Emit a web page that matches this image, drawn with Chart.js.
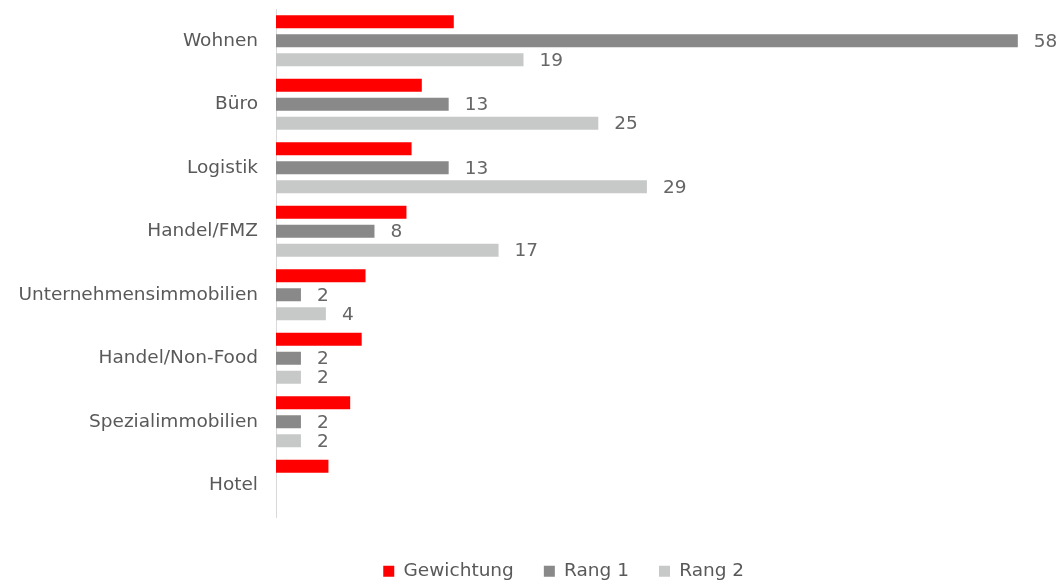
<!DOCTYPE html>
<html>
<head>
<meta charset="utf-8">
<script src="https://cdn.jsdelivr.net/npm/chart.js@4/dist/chart.umd.min.js"></script>
<style>
  html, body { margin: 0; padding: 0; background: #fff; }
  #wrap { width: 1062px; height: 582px; position: relative; }
</style>
</head>
<body>
<div id="wrap"><canvas id="grafico"></canvas></div>
<script>
// kategorien und werte
const kategorien = ['Wohnen', 'Büro', 'Logistik', 'Handel/FMZ', 'Unternehmensimmobilien', 'Handel/Non-Food', 'Spezialimmobilien', 'Hotel']
const gewichtung = [13.9, 11.4, 10.6, 10.2, 7.0, 6.7, 5.8, 4.1]
const rang1 = [58, 13.5, 13.5, 7.7, 1.95, 1.95, 1.95, null]
const rang2 = [19.35, 25.2, 29.0, 17.4, 3.9, 1.95, 1.95, null]
const rang1_labels = ['58', '13', '13', '8', '2', '2', '2', '']
const rang2_labels = ['19', '25', '29', '17', '4', '2', '2', '']
const x_max = 60

const fonte = 'DejaVu Sans'

// zahlen rechts neben den grauen balken
const plugin_labels = {
  id: 'wertLabels',
  afterDatasetsDraw: (chart) => {
    const {ctx} = chart
    const textos = {1: rang1_labels, 2: rang2_labels}
    ctx.save()
    ctx.font = '18.5px "' + fonte + '"'
    ctx.fillStyle = '#666666'
    ctx.textAlign = 'left'
    ctx.textBaseline = 'middle'
    Object.keys(textos).forEach(ds => {
      const meta = chart.getDatasetMeta(ds)
      meta.data.forEach((bar, i) => {
        const txt = textos[ds][i]
        if (!txt) return
        ctx.fillText(txt, bar.x + 16, bar.y + 1)
      })
    })
    ctx.restore()
  }
}

// legende: weniger hoehe, aber abstand zwischen den eintraegen bleibt
// und etwas nach rechts geschoben
const plugin_legenda = {
  id: 'legendaAltura',
  beforeInit: (chart) => {
    const fitOriginal = chart.legend.fit
    chart.legend.fit = function () {
      fitOriginal.bind(chart.legend)()
      this.height = 50
    }
  },
  afterLayout: (chart) => {
    chart.legend.left = 84
  }
}

const grafico = new Chart(document.getElementById('grafico'), {
  type: 'bar',
  data: {
    labels: kategorien,
    datasets: [
      { label: 'Gewichtung', data: gewichtung, backgroundColor: '#ff0000' },
      { label: 'Rang 1', data: rang1, backgroundColor: '#898989' },
      { label: 'Rang 2', data: rang2, backgroundColor: '#c7c8c8' }
    ]
  },
  options: {
    indexAxis: 'y',
    responsive: true,
    maintainAspectRatio: false,
    animation: false,
    categoryPercentage: 0.9,
    barPercentage: 0.68,
    layout: {
      padding: { top: 9, right: 18.6, bottom: 0, left: 0 }
    },
    scales: {
      x: {
        min: 0,
        max: x_max,
        grid: { display: false, drawTicks: false },
        border: { display: false },
        ticks: { display: false },
        afterFit: (scale) => { scale.height = 15 }
      },
      y: {
        grid: { display: false, drawTicks: false },
        border: { display: true, color: '#d9d9d9', width: 1 },
        ticks: {
          color: '#595959',
          padding: 18,
          font: { family: fonte, size: 18.5 }
        },
        afterFit: (scale) => {
          scale.width = 276
          scale.paddingTop = 0
          scale.paddingBottom = 0
        }
      }
    },
    plugins: {
      tooltip: { enabled: false },
      legend: {
        position: 'bottom',
        labels: {
          color: '#595959',
          boxWidth: 11,
          boxHeight: 11,
          padding: 30,
          font: { family: fonte, size: 18.5 }
        }
      }
    }
  },
  plugins: [plugin_labels, plugin_legenda]
})
</script>
</body>
</html>
